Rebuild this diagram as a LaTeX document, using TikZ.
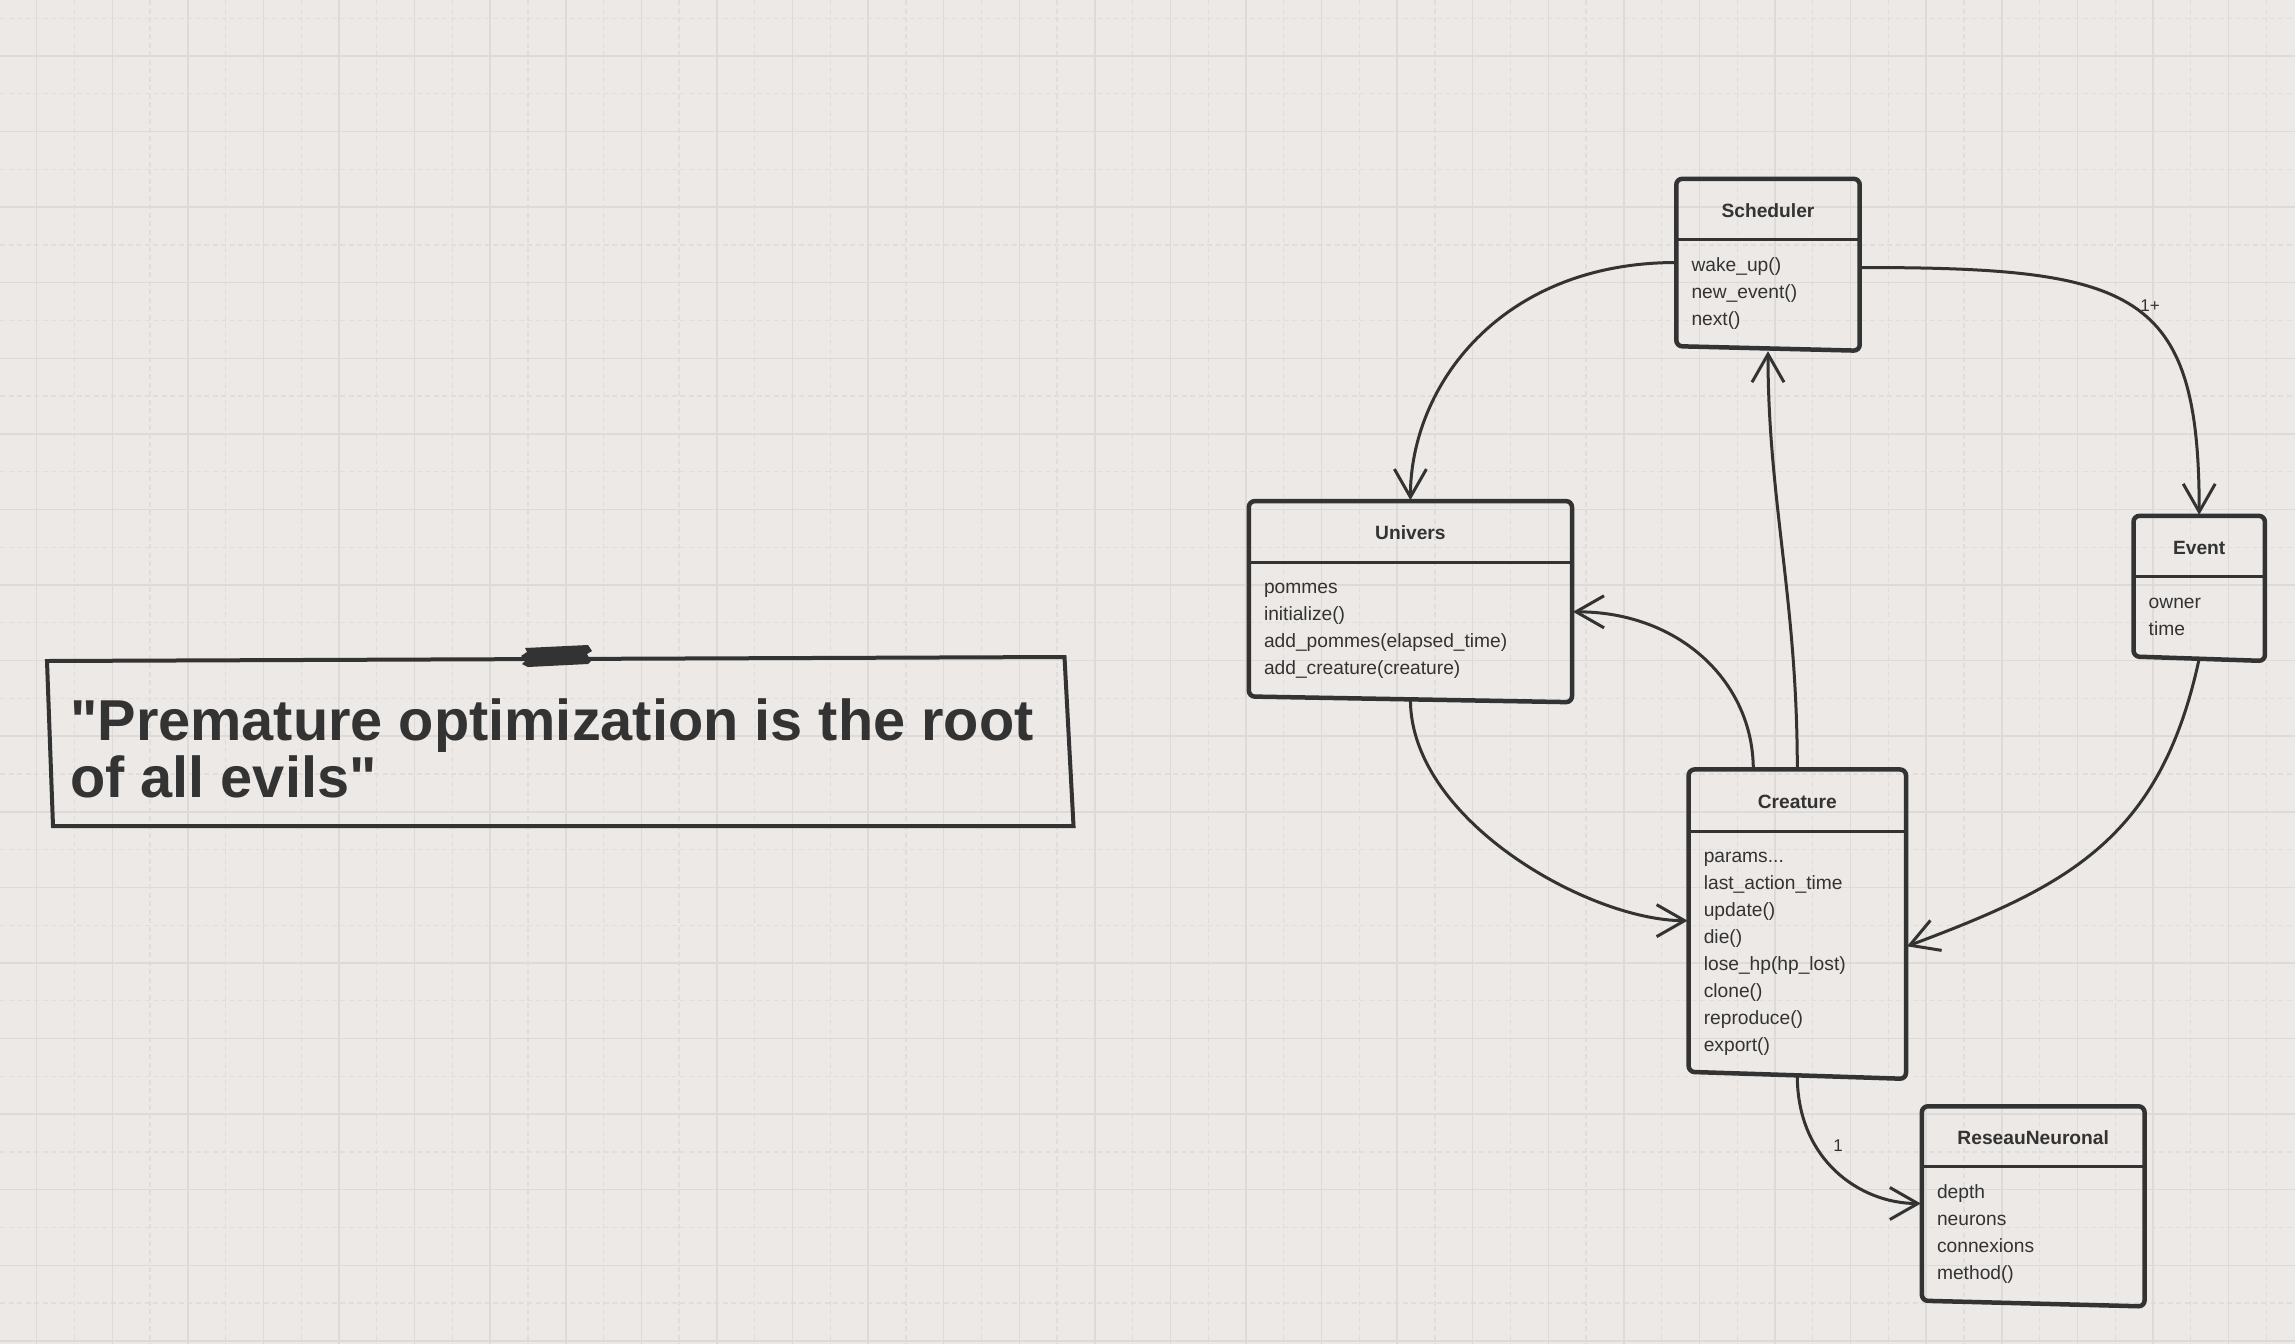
\documentclass[tikz,border=0pt]{standalone}
\usepackage{fontspec}
\setmainfont{Liberation Sans}[Ligatures=TeXOff]
\usepackage{tikz}
\usetikzlibrary{arrows.meta}

\definecolor{paper}{HTML}{ECE9E6}
\definecolor{gridsolid}{HTML}{DDDAD7}
\definecolor{griddash}{HTML}{E0DDDA}
\definecolor{ink}{HTML}{333333}

\tikzset{
  classframe/.style={rectangle, inner sep=0pt},
  boxline/.style={draw=ink, line width=4.5pt, rounded corners=6pt},
  sepline/.style={draw=ink, line width=3pt},
  classtitle/.style={inner sep=0pt, text=ink, font=\fontsize{19.2}{27}\selectfont\bfseries},
  classitems/.style={inner sep=0pt, text=ink, align=left, anchor=north west,
    font=\fontsize{19.2}{27}\selectfont},
  assoc/.style={draw=ink, line width=3pt, shorten >=1pt,
    -{Straight Barb[length=28pt,width=32pt]}},
  mult/.style={inner sep=0pt, text=ink, font=\fontsize{17}{20}\selectfont},
  gridmajor/.style={draw=gridsolid, line width=1.5pt},
  gridminor/.style={draw=griddash, line width=1.3pt, dash pattern=on 5pt off 3.5pt},
}

\begin{document}
\begin{tikzpicture}[x=1pt, y=-1pt]
    \useasboundingbox (0,0) rectangle (2295,1344);
    \fill[paper] (0,0) rectangle (2295,1344);
    % paper grid
    \foreach \k in {1,...,30}
      \draw[gridminor] ({-1.1+75.58*\k},0) -- ++(0,1344);
    \foreach \k in {0,...,17}
      \draw[gridminor] (0,{18.2+75.58*\k}) -- ++(2295,0);
    \foreach \k in {0,...,29}
      \draw[gridmajor] ({36.7+75.58*\k},0) -- ++(0,1344);
    \foreach \k in {0,...,17}
      \draw[gridmajor] (0,{56+75.58*\k}) -- ++(2295,0);

    % the quote
    \draw[draw=ink, line width=4pt] (47,661) -- (1064.5,657) -- (1073.5,826) -- (53,826) -- cycle;
    \fill[ink] (525,648) -- (588,645) -- (592,651) -- (587,654) -- (591,661) -- (588,664)
      -- (528,667) -- (522,664) -- (526,660) -- (521,656) -- (527,652) -- cycle;
    \node[anchor=base west, inner sep=0pt, align=left, text=ink,
      font=\fontsize{57.7}{57}\selectfont\bfseries] (quote) at (70,797)
      {"Premature optimization is the root\\of all evils"};

    % classes
    \node[classframe, minimum width=183pt, minimum height=167pt] (sched) at (1768,262.5) {};
    \draw[boxline] (sched.north west) -- (sched.north east)
      -- ([yshift=-4.5pt]sched.south east) -- (sched.south west) -- cycle;
    \draw[sepline] ([yshift=-61pt]sched.north west) -- ([yshift=-61pt]sched.north east);
    \node[classtitle] (sched-t) at ([yshift=-32pt]sched.north) {Scheduler};
    \node[classitems] (sched-i) at ([xshift=15pt,yshift=-73.6pt]sched.north west)
      {\strut wake\_up()\\new\_event()\\next()};

    \node[classframe, minimum width=322.8pt, minimum height=195pt] (univ) at (1410.4,598.8) {};
    \draw[boxline] (univ.north west) -- (univ.north east)
      -- ([yshift=-5.7pt]univ.south east) -- (univ.south west) -- cycle;
    \draw[sepline] ([yshift=-61pt]univ.north west) -- ([yshift=-61pt]univ.north east);
    \node[classtitle] (univ-t) at ([yshift=-32pt]univ.north) {Univers};
    \node[classitems] (univ-i) at ([xshift=15pt,yshift=-73.6pt]univ.north west)
      {\strut pommes\\initialize()\\add\_pommes(elapsed\_time)\\add\_creature(creature)};

    \node[classframe, minimum width=131pt, minimum height=140.3pt] (event) at (2199.2,586.2) {};
    \draw[boxline] (event.north west) -- (event.north east)
      -- ([yshift=-4.4pt]event.south east) -- (event.south west) -- cycle;
    \draw[sepline] ([yshift=-61pt]event.north west) -- ([yshift=-61pt]event.north east);
    \node[classtitle] (event-t) at ([yshift=-32pt]event.north) {Event};
    \node[classitems] (event-i) at ([xshift=15pt,yshift=-73.6pt]event.north west)
      {\strut owner\\time};

    \node[classframe, minimum width=217pt, minimum height=302pt] (creat) at (1797.3,920.65) {};
    \draw[boxline] (creat.north west) -- (creat.north east)
      -- ([yshift=-7pt]creat.south east) -- (creat.south west) -- cycle;
    \draw[sepline] ([yshift=-62pt]creat.north west) -- ([yshift=-62pt]creat.north east);
    \node[classtitle] (creat-t) at ([yshift=-32.4pt]creat.north) {Creature};
    \node[classitems] (creat-i) at ([xshift=15pt,yshift=-74pt]creat.north west)
      {\strut params...\\last\_action\_time\\update()\\die()\\lose\_hp(hp\_lost)\\clone()\\reproduce()\\export()};

    \node[classframe, minimum width=222.3pt, minimum height=194pt] (rn) at (2033.2,1203.5) {};
    \draw[boxline] (rn.north west) -- (rn.north east)
      -- ([yshift=-5.7pt]rn.south east) -- (rn.south west) -- cycle;
    \draw[sepline] ([yshift=-60pt]rn.north west) -- ([yshift=-60pt]rn.north east);
    \node[classtitle] (rn-t) at ([yshift=-31.5pt]rn.north) {ReseauNeuronal};
    \node[classitems] (rn-i) at ([xshift=15pt,yshift=-73pt]rn.north west)
      {\strut depth\\neurons\\connexions\\method()};

    % associations
    \draw[assoc] (sched.west) .. controls +(-176,0) and +(0,-115) .. (univ.north);
    \draw[assoc] ([yshift=-5pt]sched.east) .. controls +(276,0) and +(0,-226) .. (event.north);
    \node[mult] (mult-ev) at (2150,306) {1+};
    \draw[assoc] (creat.north) .. controls +(0,-170) and +(0,150) .. ([yshift=-4pt]sched.south);
    \draw[assoc] ([xshift=-44pt]creat.north) .. controls +(0,-87) and +(108,0) .. ([yshift=-13pt]univ.east);
    \draw[assoc] ([yshift=-3pt]univ.south) .. controls +(0,121) and +(-99,0) .. (creat.west);
    \draw[assoc] ([yshift=-2pt]event.south) .. controls +(-39,182) and +(160,-60) .. ([yshift=-26pt]creat.east);
    \draw[assoc] ([yshift=-4pt]creat.south) .. controls +(0,84) and +(-62,0) .. (rn.west);
    \node[mult] (mult-rn) at (1838,1146) {1};
\end{tikzpicture}
\end{document}
